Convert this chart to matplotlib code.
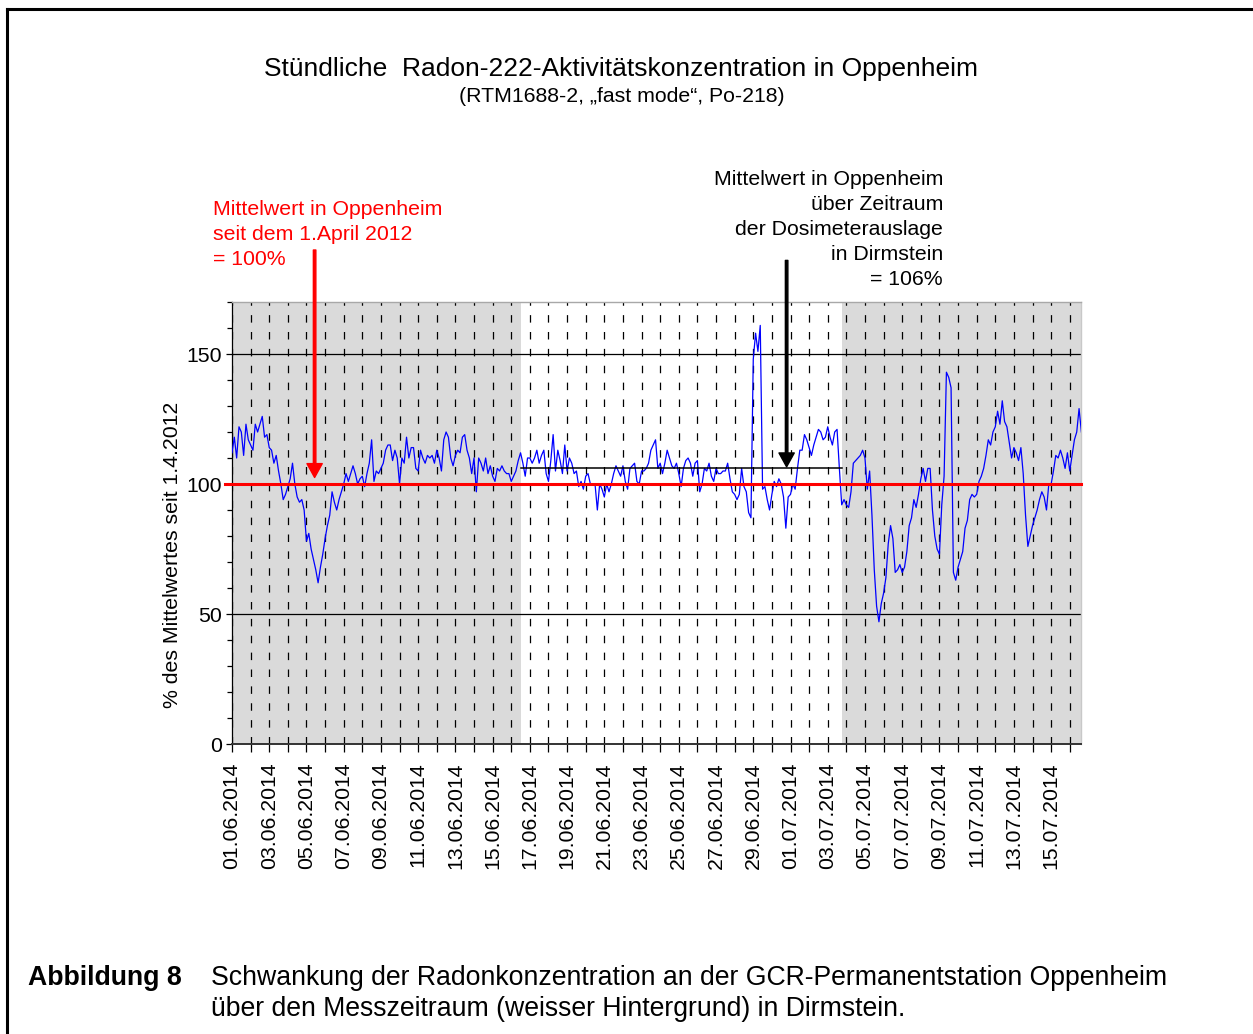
import numpy as np
import pandas as pd
import matplotlib
matplotlib.use("Agg")
import matplotlib.pyplot as plt
from matplotlib.ticker import MultipleLocator
from matplotlib.lines import Line2D

plt.rcParams['font.family'] = ['Liberation Sans', 'DejaVu Sans']

# 3-hourly values, % of the Oppenheim mean since 1.4.2012
start = pd.Timestamp('2014-06-01 00:00')
step_hours = 3
pct = [
    112, 118, 110, 122, 120, 111, 123, 117,   # 01.06
    115, 113, 123, 120, 123, 126, 118, 119,
    114, 113, 108, 111, 105, 100, 94, 96,
    99, 102, 108, 100, 95, 93, 94, 90,
    78, 81, 75, 71, 67, 62, 68, 73,           # 05.06
    79, 84, 88, 97, 93, 90, 94, 97,
    100, 104, 101, 104, 107, 104, 100, 102,
    103, 99, 104, 108, 117, 101, 105, 104,
    106, 108, 113, 115, 115, 109, 113, 110,
    100, 110, 108, 118, 110, 114, 114, 106,   # 10.06
    105, 113, 110, 108, 111, 110, 111, 108,
    113, 110, 105, 117, 120, 118, 110, 107,
    111, 113, 112, 118, 119, 113, 110, 104,
    110, 97, 110, 108, 105, 110, 104, 107,
    103, 101, 106, 105, 107, 105, 104, 104,   # 15.06
    101, 103, 105, 109, 112, 108, 103, 110,
    110, 108, 110, 113, 108, 111, 113, 104,
    101, 109, 119, 105, 113, 109, 104, 115,
    105, 110, 108, 104, 105, 99, 101, 98,
    103, 104, 100, 100, 100, 90, 100, 98,     # 20.06
    95, 100, 97, 100, 104, 107, 105, 103,
    107, 101, 98, 106, 107, 108, 101, 100,
    105, 105, 106, 108, 113, 115, 117, 106,
    108, 104, 108, 113, 110, 107, 106, 108,
    104, 99, 106, 109, 110, 108, 103, 108,    # 25.06
    109, 97, 100, 106, 105, 108, 103, 101,
    106, 104, 104, 105, 105, 108, 102, 97,
    96, 94, 96, 106, 99, 97, 89, 87,
    148, 158, 151, 161, 98, 99, 94, 90,
    96, 101, 99, 102, 100, 95, 83, 95,        # 30.06
    96, 100, 98, 106, 113, 113, 119, 117,
    114, 111, 115, 118, 121, 120, 117, 118,
    122, 118, 115, 120, 121, 106, 92, 94,
    92, 91, 97, 108, 109, 110, 111, 113,
    110, 98, 105, 88, 67, 53, 47, 54,         # 05.07
    58, 64, 77, 84, 79, 66, 67, 69,
    66, 68, 74, 84, 87, 94, 91, 96,
    102, 106, 101, 106, 106, 90, 80, 75,
    73, 92, 103, 143, 141, 137, 66, 63,
    68, 71, 74, 83, 86, 94, 96, 95,           # 10.07
    96, 101, 103, 106, 111, 117, 115, 120,
    122, 128, 123, 132, 124, 122, 116, 110,
    114, 112, 109, 114, 104, 88, 76, 80,
    84, 87, 90, 94, 97, 95, 90, 100,
    100, 105, 111, 110, 113, 110, 106, 112,   # 15.07
    105, 111, 117, 120, 129, 120,
]
t = start + pd.to_timedelta(np.arange(len(pct)) * step_hours, unit='h')

ref_mean = 100
period_mean = 106
white_start = pd.Timestamp('2014-06-16 12:00')
white_end = pd.Timestamp('2014-07-03 18:00')
x_end = pd.Timestamp('2014-07-16 14:30')
red_arrow_x = pd.Timestamp('2014-06-05 10:30')
black_arrow_x = pd.Timestamp('2014-06-30 19:00')

label_dates = pd.date_range('2014-06-01', '2014-07-15', freq='2D')
day_dates = pd.date_range('2014-06-01', '2014-07-16', freq='D')

W, H = 1253, 1034
fig = plt.figure(figsize=(W / 100, H / 100), dpi=100)
ax = fig.add_axes([232 / W, 1 - 744 / H, (1081 - 232) / W, (744 - 302) / H])

gray = '#dadada'
ax.axvspan(start, white_start, color=gray, lw=0, zorder=0)
ax.axvspan(white_end, x_end, color=gray, lw=0, zorder=0)

ax.plot(t, pct, color='#0000ff', lw=0.9, zorder=3)
ax.axhline(ref_mean, xmin=-0.008, xmax=1, color='#ff0000', lw=2.2, zorder=5, clip_on=False)
ax.plot([white_start, white_end], [period_mean, period_mean], color='black', lw=1.1, zorder=4)

ax.set_xlim(start, x_end)
ax.set_ylim(0, 170)

ax.set_xticks(label_dates)
ax.set_xticklabels([d.strftime('%d.%m.%Y') for d in label_dates], rotation=90, fontsize=15.3)
ax.set_xticks(day_dates, minor=True)
ax.set_yticks([0, 50, 100, 150])
ax.yaxis.set_minor_locator(MultipleLocator(10))

ax.set_axisbelow(True)
ax.grid(axis='x', which='both', color='black', lw=0.9, linestyle=(0, (6, 7.5)))
ax.yaxis.grid(True, which='major', color='black', lw=0.9, linestyle='-')

ax.tick_params(axis='y', which='major', direction='out', length=4.5, width=0.9, labelsize=15.3, pad=3)
ax.tick_params(axis='y', which='minor', direction='out', length=3.6, width=0.9)
ax.tick_params(axis='x', which='both', direction='out', length=6, width=0.9, pad=7)

ax.spines['left'].set_color('black')
ax.spines['left'].set_linewidth(0.9)
ax.spines['bottom'].set_color('#333333')
ax.spines['bottom'].set_linewidth(1.4)
ax.spines['top'].set_color('#a8a8a8')
ax.spines['top'].set_linewidth(1)
ax.spines['right'].set_color('#c8c8c8')
ax.spines['right'].set_linewidth(1)

# arrows pointing at the two mean lines
ax.annotate('', xy=(red_arrow_x, 102.5), xytext=(red_arrow_x, 190), annotation_clip=False,
            arrowprops=dict(facecolor='#ff0000', edgecolor='#ff0000', width=1.8,
                            headwidth=11, headlength=10, shrink=0), zorder=6)
ax.annotate('', xy=(black_arrow_x, 106.6), xytext=(black_arrow_x, 186), annotation_clip=False,
            arrowprops=dict(facecolor='black', edgecolor='black', width=1.8,
                            headwidth=11, headlength=10, shrink=0), zorder=6)

fs = 15.3
fig.text(621 / W, 1 - 69 / H, 'Stündliche  Radon-222-Aktivitätskonzentration in Oppenheim',
         ha='center', va='center', fontsize=19)
fig.text(622 / W, 1 - 97 / H, '(RTM1688-2, „fast mode“, Po-218)',
         ha='center', va='center', fontsize=fs)
fig.text(213 / W, 1 - 234.5 / H, 'Mittelwert in Oppenheim\nseit dem 1.April 2012\n= 100%',
         color='#ff0000', ha='left', va='center', fontsize=fs, linespacing=1.39)
fig.text(943 / W, 1 - 229.5 / H,
         'Mittelwert in Oppenheim\nüber Zeitraum\nder Dosimeterauslage\nin Dirmstein\n= 106%',
         ha='right', va='center', multialignment='right', fontsize=fs, linespacing=1.39)
fig.text(172 / W, 1 - 555 / H, '% des Mittelwertes seit 1.4.2012', rotation=90,
         ha='center', va='center', fontsize=fs)

cap = 19.2
fig.text(28 / W, 1 - 978 / H, 'Abbildung 8', fontweight='bold', fontsize=cap, va='center')
fig.text(211 / W, 1 - 978 / H,
         'Schwankung der Radonkonzentration an der GCR-Permanentstation Oppenheim',
         fontsize=cap, va='center')
fig.text(211 / W, 1 - 1009 / H,
         'über den Messzeitraum (weisser Hintergrund) in Dirmstein.',
         fontsize=cap, va='center')

# frame lines of the figure box (left and top)
fig.add_artist(Line2D([7 / W, 7 / W], [0, 1 - 9 / H], color='black', lw=2.2))
fig.add_artist(Line2D([7 / W, 1], [1 - 9 / H, 1 - 9 / H], color='black', lw=2.2))

fig.savefig('out.png', dpi=100)
